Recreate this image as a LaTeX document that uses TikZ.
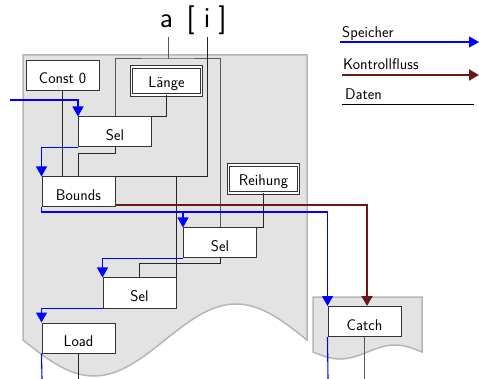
\documentclass[tikz,border=0pt]{standalone}
\usepackage{fontspec}
\usetikzlibrary{arrows.meta}
\definecolor{kontroll}{RGB}{110,22,22}
\definecolor{speicher}{RGB}{0,0,255}
\definecolor{blatt}{RGB}{227,227,227}
\definecolor{blattrand}{RGB}{182,182,182}

\begin{document}
\begin{tikzpicture}[x=1pt,y=-1pt,
  op/.style={draw=black!80,fill=white,line width=1pt,minimum width=73pt,minimum height=30pt,
    inner sep=0pt,text height=17pt,text depth=0pt,font=\sffamily\fontsize{15.5}{17}\selectfont},
  var/.style={op,double,double distance=1.4pt,minimum width=70pt,minimum height=28pt,text height=13pt},
  big/.style={font=\sffamily\fontsize{29}{34}\selectfont,anchor=base,inner sep=2pt,text depth=7pt},
  legend/.style={font=\sffamily\fontsize{15.5}{17}\selectfont,anchor=base west,inner sep=0pt},
  dat/.style={black!85,line width=1pt},
  mem/.style={draw=speicher,line width=1.1pt,-{Triangle[length=10pt,width=11pt]}},
  ctrl/.style={draw=kontroll,line width=2pt,-{Triangle[length=10pt,width=11pt]}}]
  \useasboundingbox (0,0) rectangle (479,379);

  % background sheets with wavy lower edge
  \draw[blattrand,fill=blatt,line width=1.5pt] (23,55) -- (307,55) -- (307,340)
    sin (236,304) cos (165,340) sin (94,376) cos (23,340) -- cycle;
  \draw[blattrand,fill=blatt,line width=1.5pt] (313,297) -- (422,297) -- (422,352)
    sin (395,345) cos (367.5,352) sin (340,359) cos (313,352) -- cycle;

  \node[big] (arr) at (166.5,28) {a};
  \node[big] (lbr) at (190.5,28) {[};
  \node[big] (idx) at (207,28) {i};
  \node[big] (rbr) at (222.5,28) {]};

  \node[op] (const) at (62.5,75.5) {Const 0};
  \node[var] (laenge) at (166.5,81) {Länge};
  \node[op] (sel1) at (115,132) {Sel};
  \node[op] (bounds) at (78.5,192) {Bounds};
  \node[var] (reihung) at (263.5,179) {Reihung};
  \node[op] (sel2) at (220,243) {Sel};
  \node[op] (sel3) at (139.5,293) {Sel};
  \node[op] (load) at (78.5,338) {Load};
  \node[op] (catch) at (364.5,321.5) {Catch};

  \coordinate (afork) at (168,59);
  \coordinate (memin) at (10,100);
  \coordinate (loadout) at (78.5,379);
  \coordinate (loadmem) at (42,379);
  \coordinate (catchout) at (364.5,379);
  \coordinate (catchmem) at (328,379);

  % data
  \draw[dat,black!65] (arr.south -| afork) -- (afork);
  \draw[dat,black!65] (sel1.north) |- (afork) -| (sel2.north);
  \draw[dat] (idx.south) |- (bounds.north east);
  \draw[dat] (sel3.north east) -- (sel3.north east |- bounds.north);
  \draw[dat] (const.south) -- (const.south |- bounds.north);
  \draw[dat] (laenge.south) |- (sel1.north east);
  \draw[dat] (sel1.south) -- ++(0,6) -| (bounds.north);
  \draw[dat] (reihung.south) |- (sel2.north east);
  \draw[dat] (sel2.south) -- ++(0,5) -| (sel3.north);
  \draw[dat] (load.south) -- (loadout);
  \draw[dat,black!65] (catch.south) -- (catchout);

  % memory
  \draw[mem] (memin) -| (sel1.north west);
  \draw[mem] (sel1.south west) -| (bounds.north west);
  \draw[mem] (bounds.south west) -- ++(0,4.5) -| (sel2.north west);
  \draw[mem] (bounds.south west) -- ++(0,4.5) -| (catch.north west);
  \draw[mem] (sel2.south west) -| (sel3.north west);
  \draw[mem] (sel3.south west) -| (load.north west);
  \draw[mem,-] (load.south west) -- (loadmem);
  \draw[mem,-] (catch.south west) -- (catchmem);

  % control flow
  \draw[ctrl] ([yshift=2pt]bounds.south east) -| ([xshift=2.5pt]catch.north);

  % legend
  \node[legend] (lgmem) at (342,38) {Speicher};
  \node[legend] (lgctrl) at (343,70) {Kontrollfluss};
  \node[legend] (lgdat) at (345,100) {Daten};
  \coordinate (lgmemA) at (340,42);
  \coordinate (lgmemB) at (479,42);
  \coordinate (lgctrlA) at (342,75);
  \coordinate (lgctrlB) at (479,75);
  \coordinate (lgdatA) at (342,105);
  \coordinate (lgdatB) at (474,105);
  \draw[mem] (lgmemA) -- (lgmemB);
  \draw[ctrl] (lgctrlA) -- (lgctrlB);
  \draw[dat,black] (lgdatA) -- (lgdatB);
\end{tikzpicture}
\end{document}
